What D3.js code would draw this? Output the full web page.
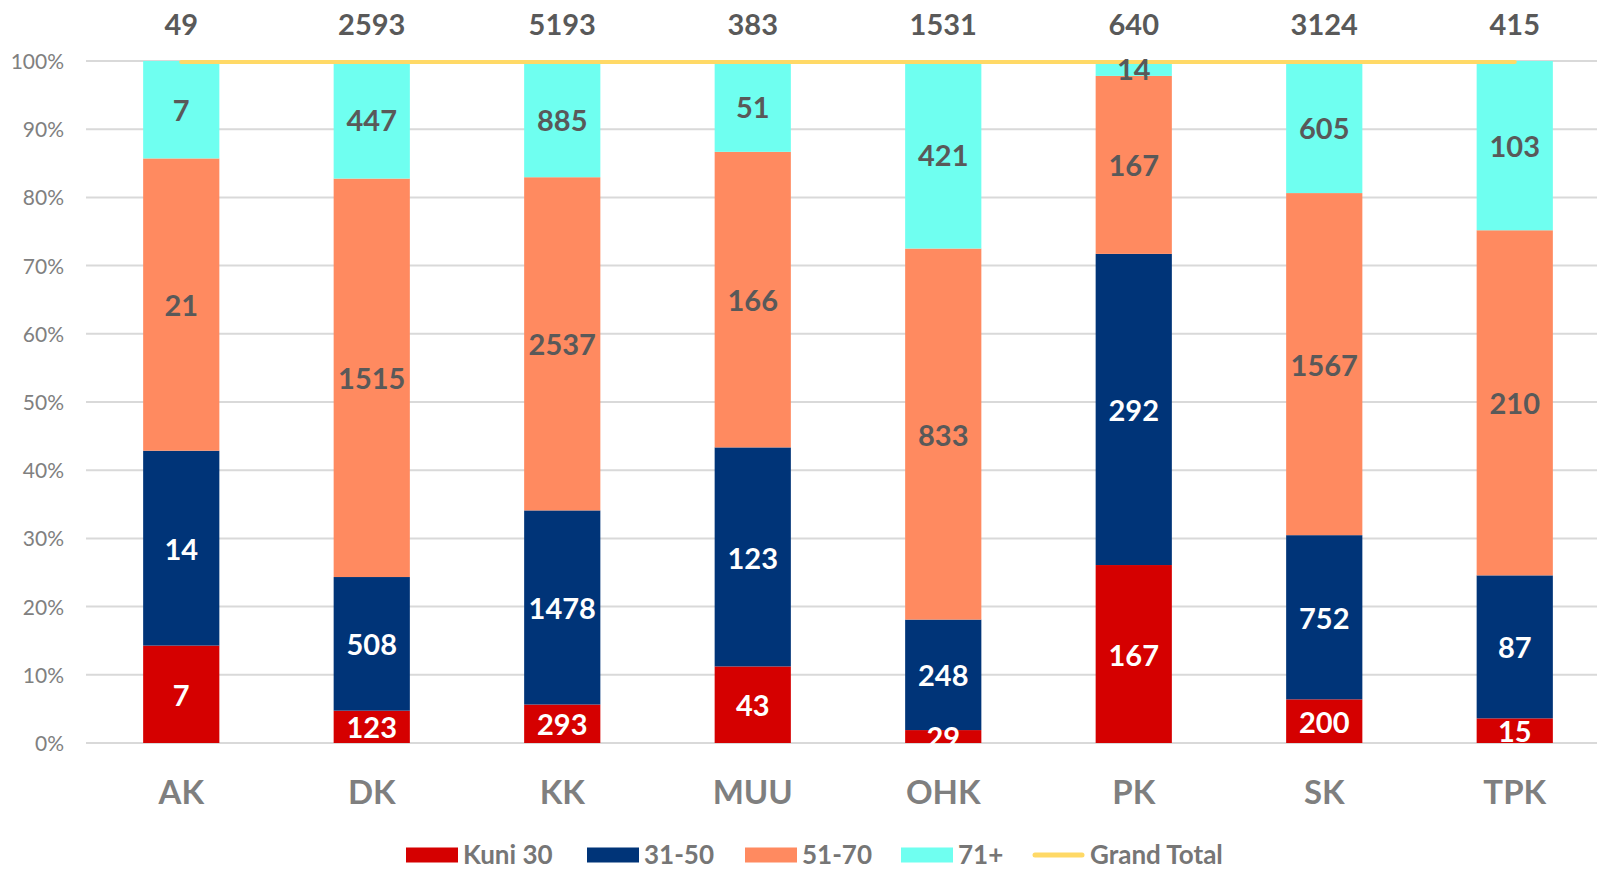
<!DOCTYPE html>
<html>
<head>
<meta charset="utf-8">
<script src="https://cdn.jsdelivr.net/npm/d3@7"></script>
<style>
  body { margin: 0; background: #fff; overflow: hidden; }
  svg { display: block; font-family: Lato, "Open Sans", sans-serif; }
</style>
</head>
<body>
<script>
// data
let categories = ['AK', 'DK', 'KK', 'MUU', 'OHK', 'PK', 'SK', 'TPK']
let grandTotal = [49, 2593, 5193, 383, 1531, 640, 3124, 415]
let kuni30 = [7, 123, 293, 43, 29, 167, 200, 15]
let age31_50 = [14, 508, 1478, 123, 248, 292, 752, 87]
let age51_70 = [21, 1515, 2537, 166, 833, 167, 1567, 210]
let age71 = [7, 447, 885, 51, 421, 14, 605, 103]
let seriesNames = ['Kuni 30', '31-50', '51-70', '71+']
let yTicks = [0, 0.1, 0.2, 0.3, 0.4, 0.5, 0.6, 0.7, 0.8, 0.9, 1]

let colors = ['#d50000', '#003478', '#ff8a60', '#6ffff0']
let labelColors = ['#fff', '#fff', '#595959', '#595959']
let lineColor = '#ffd966'

let W = 1597, H = 869
let svg = d3.select('body').append('svg')
    .attr('width', W)
    .attr('height', H)

let x = d3.scaleBand().domain(categories).range([86, 1610]).paddingInner(0.6).paddingOuter(0.3)
let y = d3.scaleLinear().domain([0, 1]).range([743, 61])

// rows for stacking
let rows = categories.map((c, i) => ({
    cat: c, total: grandTotal[i],
    'Kuni 30': kuni30[i], '31-50': age31_50[i], '51-70': age51_70[i], '71+': age71[i]
}))
let stacked = d3.stack().keys(seriesNames).offset(d3.stackOffsetExpand)(rows)

// gridlines
svg.append('g').selectAll('line').data(yTicks).join('line')
    .attr('x1', 86).attr('x2', W)
    .attr('y1', d => y(d)).attr('y2', d => y(d))
    .attr('stroke', '#d9d9d9').attr('stroke-width', 2)

// y axis labels
let yAxis = svg.append('g').attr('transform', 'translate(72,0)')
    .call(d3.axisLeft(y).tickValues(yTicks).tickFormat(d3.format('.0%')).tickSize(0))
yAxis.select('.domain').remove()
yAxis.selectAll('text')
    .attr('x', -8)
    .attr('dy', '0.36em')
    .style('font-family', 'Lato, sans-serif')
    .style('font-size', '21px')
    .attr('fill', '#808080')

// bars
let layers = svg.append('g').selectAll('g').data(stacked).join('g')
    .attr('fill', (d, i) => colors[i])
layers.selectAll('rect').data(d => d).join('rect')
    .attr('x', d => x(d.data.cat))
    .attr('width', x.bandwidth())
    .attr('y', d => y(d[1]))
    .attr('height', d => y(d[0]) - y(d[1]))

// grand total line (sits at 100%)
svg.append('path')
    .datum(rows)
    .attr('d', d3.line().x(d => x(d.cat) + x.bandwidth() / 2).y(() => y(1) + 1))
    .attr('fill', 'none')
    .attr('stroke', lineColor)
    .attr('stroke-width', 4)
    .attr('stroke-linecap', 'round')

// segment labels
let labelLayers = svg.append('g').selectAll('g').data(stacked).join('g')
    .attr('fill', (d, i) => labelColors[i])
labelLayers.selectAll('text').data(d => d.map(v => ({ v, key: d.key }))).join('text')
    .attr('x', d => x(d.v.data.cat) + x.bandwidth() / 2)
    .attr('y', d => y((d.v[0] + d.v[1]) / 2))
    .attr('dy', '0.4em')
    .attr('text-anchor', 'middle')
    .style('font-size', '29px')
    .style('font-weight', 'bold')
    .text(d => d.v.data[d.key])

// totals on top
svg.append('g').selectAll('text').data(rows).join('text')
    .attr('x', d => x(d.cat) + x.bandwidth() / 2)
    .attr('y', 25)
    .attr('dy', '0.36em')
    .attr('text-anchor', 'middle')
    .attr('fill', '#595959')
    .style('font-size', '29px')
    .style('font-weight', 'bold')
    .text(d => d.total)

// category axis
let xAxis = svg.append('g').attr('transform', 'translate(0,743)')
    .call(d3.axisBottom(x).tickSize(0))
xAxis.select('.domain').remove()
xAxis.selectAll('text')
    .attr('y', 49)
    .attr('dy', '0.36em')
    .style('font-family', 'Lato, sans-serif')
    .style('font-size', '33px')
    .style('font-weight', 'bold')
    .attr('fill', '#7f7f7f')

// legend
let legendItems = seriesNames.map((s, i) => ({ name: s, color: colors[i], type: 'rect' }))
legendItems.push({ name: 'Grand Total', color: lineColor, type: 'line' })
let legendX = [406, 587, 745, 901, 1033]
let legend = svg.append('g').selectAll('g').data(legendItems).join('g')
    .attr('transform', (d, i) => `translate(${legendX[i]},855)`)
legend.filter(d => d.type == 'rect').append('rect')
    .attr('x', 0).attr('y', -7.5).attr('width', 52).attr('height', 15)
    .attr('fill', d => d.color)
legend.filter(d => d.type == 'line').append('line')
    .attr('x1', 2).attr('x2', 49).attr('y1', 0).attr('y2', 0)
    .attr('stroke', d => d.color).attr('stroke-width', 5).attr('stroke-linecap', 'round')
legend.append('text')
    .attr('x', 57)
    .attr('y', 9)
    .attr('fill', '#767676')
    .style('font-size', '26px')
    .style('font-weight', 'bold')
    .text(d => d.name)
</script>
</body>
</html>
